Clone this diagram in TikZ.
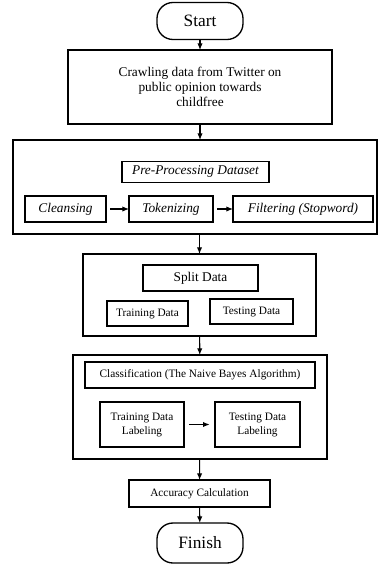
\documentclass[tikz,border=0pt]{standalone}
\usepackage{fontspec}
\setmainfont{Liberation Serif}
\usetikzlibrary{arrows.meta}

\begin{document}
\begin{tikzpicture}[x=0.75pt,y=-0.75pt,>={Latex[length=5pt,width=4pt]},
    every node/.style={inner sep=1pt,outer sep=0pt,align=center},
    box/.style={draw,line width=0.9pt},
    frame/.style={draw,line width=1.1pt},
    term/.style={draw,line width=1pt,rounded corners=12pt},
    sz/.style 2 args={minimum width=#1*0.75pt,minimum height=#2*0.75pt},
    big/.style={font=\fontsize{13}{15}\selectfont},
    mid/.style={font=\fontsize{10}{11.5}\selectfont},
    midit/.style={font=\fontsize{10}{11.5}\selectfont\itshape},
    small/.style={font=\fontsize{8.5}{10.5}\selectfont}]
    \useasboundingbox (0,0) rectangle (378,565);

    \node[term,big,sz={86}{37}] (start) at (200,21) {Start};
    \node[box,mid,sz={264}{74}] (crawl) at (200,87) {Crawling data from Twitter on\\public opinion towards\\childfree};

    \node[frame,sz={364}{94}] (pre) at (195,187) {};
    \node[box,midit,sz={147}{21}] (predata) at (195.5,172) {Pre-Processing Dataset};
    \node[box,midit,sz={81}{26}] (clean) at (65.5,209) {Cleansing};
    \node[box,midit,sz={84}{26}] (token) at (171,209) {Tokenizing};
    \node[box,midit,sz={140}{26}] (filter) at (303,209) {Filtering (Stopword)};

    \node[frame,sz={233}{82}] (split) at (199.5,295) {};
    \node[box,mid,sz={115}{26}] (splitdata) at (200.5,278) {Split Data};
    \node[box,small,sz={81}{25}] (train) at (147.5,313.5) {Training Data};
    \node[box,small,sz={83}{25}] (test) at (251.5,311.5) {Testing Data};

    \node[frame,sz={254}{104}] (class) at (200,407) {};
    \node[box,small,sz={230}{26}] (classtitle) at (200,375) {Classification (The Naive Bayes Algorithm)};
    \node[box,small,sz={84}{45}] (trainlab) at (142,424.5) {Training Data\\Labeling};
    \node[box,small,sz={85}{45}] (testlab) at (257.5,424.5) {Testing Data\\Labeling};

    \node[box,small,sz={141}{27}] (acc) at (199.5,493.5) {Accuracy Calculation};
    \node[term,big,sz={86}{40}] (finish) at (200,543) {Finish};

    \draw[->,thick](start)--(crawl);
    \draw[->,thick](crawl.south)--(crawl.south|-pre.north);
    \draw[->,thick,shorten <=3pt](clean)--(token);
    \draw[->,thick,shorten <=3pt](token)--(filter);
    \draw[->,thick](split.north|-pre.south)--(split.north);
    \draw[->,thick](split)--(class);
    \draw[->,thick,shorten <=4pt,shorten >=4pt](trainlab)--(testlab);
    \draw[->,thick](class)--(acc);
    \draw[->,thick](acc)--(finish);
\end{tikzpicture}
\end{document}
